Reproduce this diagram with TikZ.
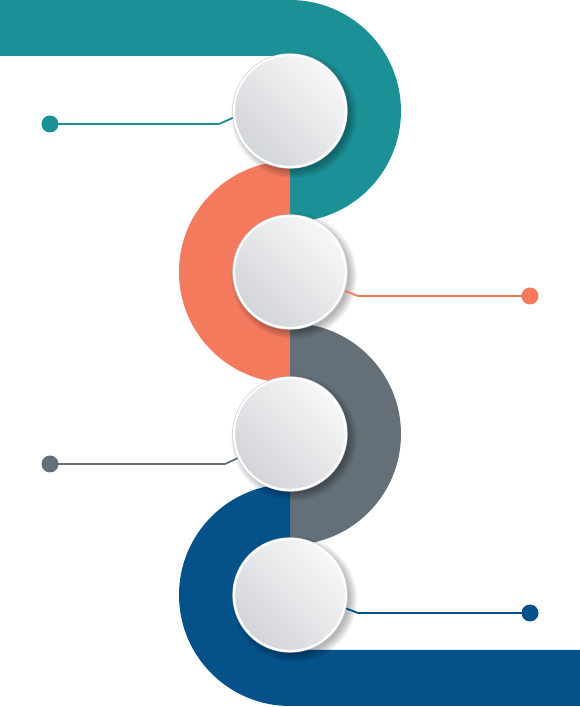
\documentclass[tikz,border=0pt]{standalone}
\usetikzlibrary{positioning}
\definecolor{cTeal}{HTML}{1B9097}
\definecolor{cCoral}{HTML}{F47A5E}
\definecolor{cSlate}{HTML}{646F78}
\definecolor{cNavy}{HTML}{05518A}
\definecolor{cLite}{HTML}{F6F7F8}
\definecolor{cDark}{HTML}{D2D5D8}
\definecolor{cRim}{HTML}{C9CCCF}
\tikzset{
  band/.style={draw=none},
  disc/.style={circle, minimum size=112pt, inner sep=0pt, shading=axis, top color=cLite, bottom color=cDark, shading angle=-45, preaction={draw=cRim, line width=3.4pt}, draw=white, line width=2.2pt},
  lead/.style={line width=1.8pt},
  dot/.style={circle, inner sep=0pt, minimum size=17pt},
}
\begin{document}
\begin{tikzpicture}[x=1pt,y=1pt]
\useasboundingbox (0,0) rectangle (580,707);
% winding bands
\fill[band, cTeal] (0,707) -- (290,707) arc (90:-90:111) -- (290,541) arc (-90:90:55) -- (0,651) -- cycle;
\fill[band, cCoral] (290,546) arc (90:270:111) -- (290,380) arc (270:90:55) -- cycle;
\fill[band, cSlate] (290,384) arc (90:-90:111) -- (290,218) arc (-90:90:55) -- cycle;
\fill[band, cNavy] (290,223) arc (90:270:111) -- (580,1) -- (580,57) -- (290,57) arc (270:90:55) -- cycle;
% soft shadows
\foreach \y in {596,435,273,112}
  \foreach \k in {0,...,8}
    \fill[black, opacity=0.035] (294,\y-4) circle (55+\k);
% dots
\node[dot, fill=cTeal] (d1) at (50,583) {};
\node[dot, fill=cCoral] (d2) at (530,411) {};
\node[dot, fill=cSlate] (d3) at (50,243) {};
\node[dot, fill=cNavy] (d4) at (530,94) {};
% leader lines
\draw[lead, cTeal] (237,591) -- (219,583) -- (d1.center);
\draw[lead, cCoral] (345,416) -- (358,411) -- (d2.center);
\draw[lead, cSlate] (238,249) -- (225,243) -- (d3.center);
\draw[lead, cNavy] (345,99) -- (358,94) -- (d4.center);
% discs
\node[disc] (c1) at (290,596) {};
\node[disc] (c2) at (290,435) {};
\node[disc] (c3) at (290,273) {};
\node[disc] (c4) at (290,112) {};
\end{tikzpicture}
\end{document}
